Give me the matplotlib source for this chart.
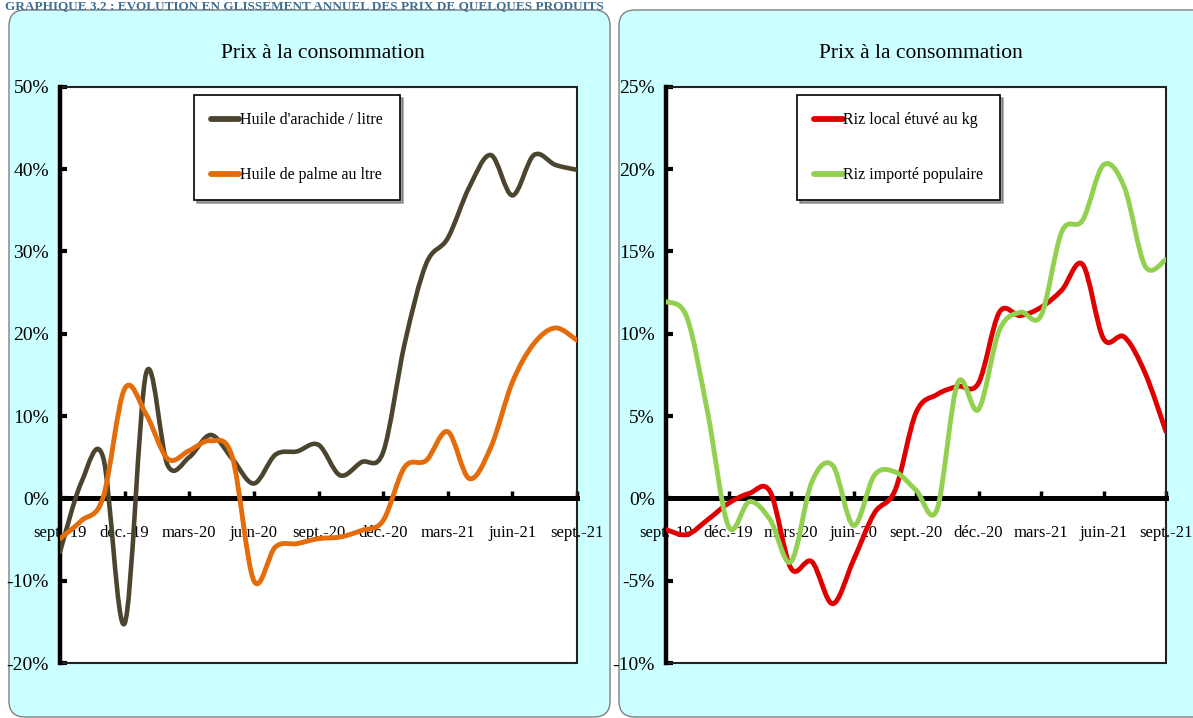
import matplotlib.pyplot as plt
from matplotlib.patches import FancyBboxPatch, PathPatch, Rectangle
from matplotlib.path import Path
from matplotlib.lines import Line2D

plt.rcParams['font.family'] = ['Liberation Serif', 'DejaVu Serif']

# Monthly data, sept.-19 -> sept.-21 (year-on-year change, %)
months = ['sept.-19', 'oct.-19', 'nov.-19', 'déc.-19', 'janv.-20', 'févr.-20', 'mars-20',
          'avr.-20', 'mai-20', 'juin-20', 'juil.-20', 'août-20', 'sept.-20', 'oct.-20',
          'nov.-20', 'déc.-20', 'janv.-21', 'févr.-21', 'mars-21', 'avr.-21', 'mai-21',
          'juin-21', 'juil.-21', 'août-21', 'sept.-21']
tick_labels = ['sept.-19', 'déc.-19', 'mars-20', 'juin-20', 'sept.-20',
               'déc.-20', 'mars-21', 'juin-21', 'sept.-21']

huile_arachide = [-6.5, 2.0, 5.0, -15.2, 15.2, 4.0, 5.0, 7.7, 4.8, 1.8, 5.3, 5.7, 6.5,
                  2.8, 4.4, 5.6, 18.8, 28.5, 31.6, 37.8, 41.7, 36.8, 41.7, 40.5, 39.9]
huile_palme = [-4.9, -2.7, 0.1, 13.3, 10.2, 4.8, 5.8, 7.0, 5.0, -10.0, -5.9, -5.5, -4.9,
               -4.7, -3.9, -2.7, 3.8, 4.6, 8.1, 2.4, 6.2, 14.1, 18.8, 20.7, 19.2]
riz_local = [-1.9, -2.2, -1.3, -0.3, 0.3, 0.4, -4.25, -3.85, -6.4, -3.75, -0.9, 0.5, 5.2,
             6.3, 6.8, 7.0, 11.3, 11.1, 11.6, 12.65, 14.2, 9.7, 9.8, 7.6, 4.05]
riz_importe = [11.95, 11.0, 5.2, -1.7, -0.2, -1.3, -3.85, 1.0, 2.0, -1.65, 1.4, 1.6, 0.5,
               -0.7, 7.0, 5.4, 10.2, 11.3, 11.1, 16.2, 16.9, 20.25, 18.9, 14.1, 14.5]


def smooth_path(values):
    # Excel-like smoothed line: cubic Bezier segments (Catmull-Rom control points)
    pts = list(enumerate(values))
    verts = [pts[0]]
    codes = [Path.MOVETO]
    n = len(pts)
    for i in range(n - 1):
        p0 = pts[max(i - 1, 0)]
        p1 = pts[i]
        p2 = pts[i + 1]
        p3 = pts[min(i + 2, n - 1)]
        c1 = (p1[0] + (p2[0] - p0[0]) / 6, p1[1] + (p2[1] - p0[1]) / 6)
        c2 = (p2[0] - (p3[0] - p1[0]) / 6, p2[1] - (p3[1] - p1[1]) / 6)
        verts += [c1, c2, p2]
        codes += [Path.CURVE4] * 3
    return Path(verts, codes)


def draw_panel(rect, series, labels, colors, widths, ylim, ystep, legend_anchor):
    ax = fig.add_axes(rect, zorder=1)
    ax.set_facecolor('white')
    ax.set_xlim(0, len(months) - 1)
    ax.set_ylim(*ylim)

    for values, color, lw in zip(series, colors, widths):
        ax.add_patch(PathPatch(smooth_path(values), fill=False, ec=color, lw=lw,
                               capstyle='round', joinstyle='round', zorder=3))

    # axes: thick left spine, thick horizontal axis at 0
    for side in ['top', 'right']:
        ax.spines[side].set_visible(False)
    ax.spines['left'].set_linewidth(3.2)
    ax.spines['bottom'].set_position(('data', 0))
    ax.spines['bottom'].set_linewidth(3.6)
    ax.add_patch(Rectangle((0, 0), 1, 1, transform=ax.transAxes, fill=False,
                           ec='#222222', lw=1.5, clip_on=False, zorder=2.4))

    yvals = list(range(ylim[0], ylim[1] + 1, ystep))
    ax.set_yticks(yvals)
    ax.set_yticklabels([f'{v}%' for v in yvals])
    ax.set_xticks(range(0, len(months), 3))
    ax.set_xticklabels(tick_labels)
    ax.tick_params(axis='y', direction='in', length=5, width=3, pad=8, labelsize=14)
    ax.tick_params(axis='x', direction='in', length=5, width=2.5, pad=19, labelsize=12)

    handles = [Line2D([], [], color=c, lw=4.2, solid_capstyle='round') for c in colors]
    leg = ax.legend(handles, labels, loc='upper left', bbox_to_anchor=legend_anchor,
                    borderaxespad=0, frameon=True, fancybox=False, edgecolor='black',
                    framealpha=1, fontsize=11.5, labelspacing=2.45, handlelength=1.8,
                    handletextpad=0.05, borderpad=1.05, shadow=True)
    leg.get_frame().set_linewidth(1.2)
    return ax


fig = plt.figure(figsize=(11.93, 7.18), dpi=100)

# background in pixel units
bg = fig.add_axes([0, 0, 1, 1], zorder=0)
bg.set_xlim(0, 1193)
bg.set_ylim(718, 0)
bg.axis('off')
for x0, x1 in [(9, 610), (619, 1215)]:
    bg.add_patch(FancyBboxPatch((x0, 10), x1 - x0, 707,
                                boxstyle='round,pad=0,rounding_size=16',
                                fc='#CCFFFF', ec='#7F7F7F', lw=1))
bg.text(5, 0.5, 'GRAPHIQUE 3.2 : EVOLUTION EN GLISSEMENT ANNUEL DES PRIX DE QUELQUES PRODUITS',
        ha='left', va='top', fontsize=9.5, fontweight='bold', color='#3F6F8F', zorder=5)
bg.text(323, 54, 'Prix à la consommation', ha='center', va='center', fontsize=15.5)
bg.text(921, 54, 'Prix à la consommation', ha='center', va='center', fontsize=15.5)

draw_panel([60 / 1193, 55 / 718, 517 / 1193, 576.3 / 718],
           [huile_arachide, huile_palme],
           ["Huile d'arachide / litre", 'Huile de palme au ltre'],
           ['#4B4530', '#E46C0A'], [3.3, 3.5], (-20, 50), 10, (0.259, 0.985))
draw_panel([666 / 1193, 55 / 718, 500 / 1193, 576.3 / 718],
           [riz_local, riz_importe],
           ['Riz local étuvé au kg', 'Riz importé populaire'],
           ['#E00000', '#92D050'], [3.5, 3.5], (-10, 25), 5, (0.262, 0.985))

fig.savefig('out.png', dpi=100)
